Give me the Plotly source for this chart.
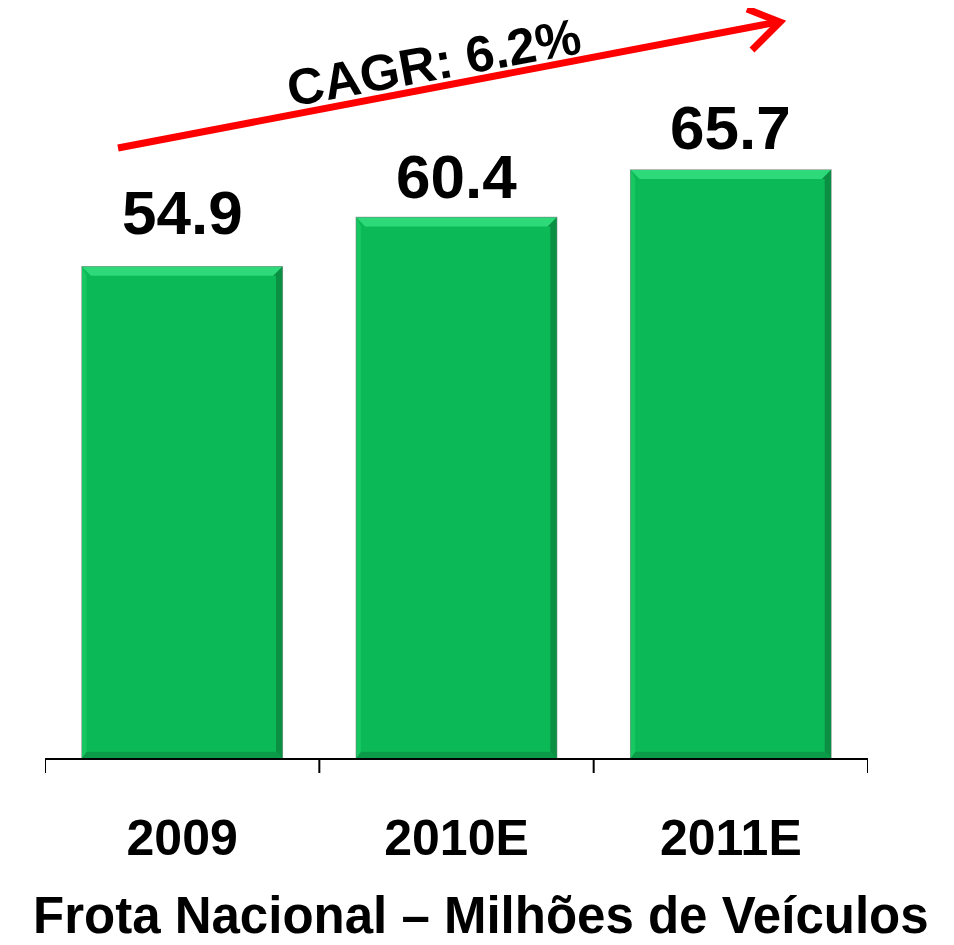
import plotly.graph_objects as go

categories = ["2009", "2010E", "2011E"]
values = [54.9, 60.4, 65.7]
value_labels = ["54.9", "60.4", "65.7"]
cagr_label = "CAGR: 6.2%"
title_text = "Frota Nacional – Milhões de Veículos"

FONT = "Liberation Sans, Arial, sans-serif"
GREEN = "#0BBA56"
LABEL_SHIFTS = [18, 4, 6]

OFF = 8  # page body margin
W, H = 954, 945
ML, MR, MT, MB = 45 - OFF, 86 + OFF, 42 - OFF, 945 - (758 - OFF)
YMAX = 80
BARGAP = 0.27
PW = W - ML - MR
PH = H - MT - MB


def px(x):
    return (x - OFF - ML) / PW


def py(y):
    return (H - MB - (y - OFF)) / PH


fig = go.Figure()
fig.add_trace(go.Bar(
    x=list(range(len(categories))), y=values,
    marker=dict(color=GREEN, line=dict(color="rgba(70,90,80,0.55)", width=1.5)),
    hoverinfo="skip",
))

shapes = []
bw = 1 - BARGAP
dx = 9 / (PW / len(categories))
dy = 9 / (PH / YMAX)
for i, v in enumerate(values):
    x0, x1 = i - bw / 2, i + bw / 2
    shapes.append(dict(type="path", xref="x", yref="y",
                       path=f"M{x0},{v} L{x1},{v} L{x1-dx},{v-dy} L{x0+dx},{v-dy} Z",
                       fillcolor="#2ED97A", line=dict(width=0)))
    shapes.append(dict(type="path", xref="x", yref="y",
                       path=f"M{x1},{v} L{x1},0 L{x1-dx*0.7},{dy*0.7} L{x1-dx*0.7},{v-dy} L{x1-dx},{v-dy} Z",
                       fillcolor="#0A8F43", line=dict(width=0)))
    shapes.append(dict(type="path", xref="x", yref="y",
                       path=f"M{x0},0 L{x1},0 L{x1-dx*0.7},{dy*0.7} L{x0+dx*0.5},{dy*0.7} Z",
                       fillcolor="#0A9A48", line=dict(width=0)))
    shapes.append(dict(type="path", xref="x", yref="y",
                       path=f"M{x0},{v} L{x0+dx*0.5},{v-dy} L{x0+dx*0.5},{dy*0.7} L{x0},0 Z",
                       fillcolor="#17C862", line=dict(width=0)))

# CAGR arrow
shapes.append(dict(type="line", xref="paper", yref="paper",
                   x0=px(118), y0=py(148), x1=px(778), y1=py(22),
                   line=dict(color="#FF0000", width=7)))
shapes.append(dict(type="path", xref="paper", yref="paper",
                   path=f"M{px(747)},{py(9)} L{px(780)},{py(22)} L{px(752)},{py(50)}",
                   line=dict(color="#FF0000", width=7)))

annotations = []
for i, (v, t) in enumerate(zip(values, value_labels)):
    annotations.append(dict(x=i, y=v, xref="x", yref="y", text=f"<b>{t}</b>",
                            showarrow=False, yanchor="bottom", yshift=LABEL_SHIFTS[i],
                            font=dict(family=FONT, size=62, color="black")))
annotations.append(dict(x=px(434), y=py(62), xref="paper", yref="paper",
                        text=f"<b>{cagr_label}</b>", showarrow=False, textangle=-10.5,
                        xanchor="center", yanchor="middle",
                        font=dict(family=FONT, size=51, color="black")))
annotations.append(dict(x=px(481), y=py(915), xref="paper", yref="paper",
                        text=f"<b>{title_text}</b>", showarrow=False,
                        xanchor="center", yanchor="middle",
                        font=dict(family=FONT, size=51, color="black")))

fig.update_layout(
    width=W, height=H,
    margin=dict(l=ML, r=MR, t=MT, b=MB),
    plot_bgcolor="white", paper_bgcolor="white",
    bargap=BARGAP, showlegend=False,
    shapes=shapes, annotations=annotations,
    xaxis=dict(
        tickmode="array", tickvals=list(range(len(categories))),
        ticktext=[f"<b>{c}</b>" for c in categories],
        range=[-0.5, len(categories) - 0.5],
        showline=True, linecolor="black", linewidth=2,
        ticks="", showgrid=False, zeroline=False,
        tickfont=dict(family=FONT, size=50, color="black"),
        ticklabelstandoff=35,
    ),
    yaxis=dict(range=[0, YMAX], visible=False, showgrid=False, zeroline=False),
)

for k in range(len(categories) + 1):
    fig.add_shape(type="line", xref="x", yref="paper",
                  x0=k - 0.5, x1=k - 0.5, y0=0, y1=-15 / PH,
                  line=dict(color="black", width=2))

fig.write_html("out.html")
